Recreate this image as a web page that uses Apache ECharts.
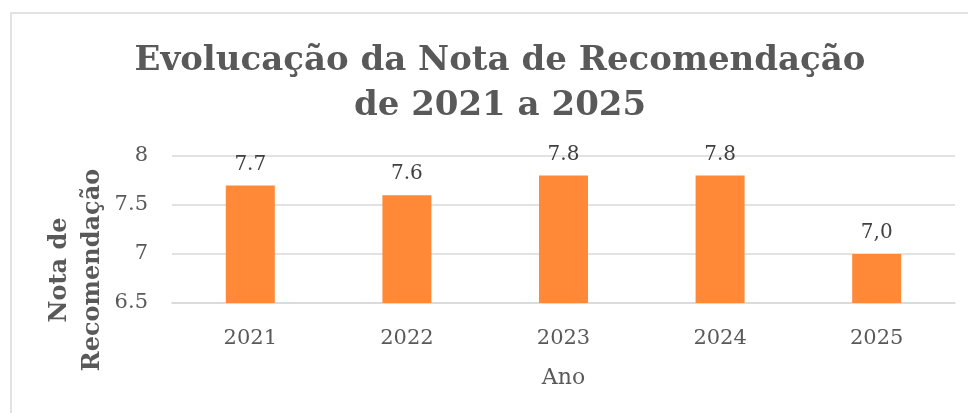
<!DOCTYPE html>
<html>
<head>
<meta charset="utf-8">
<script src="https://cdn.jsdelivr.net/npm/echarts@6/dist/echarts.min.js"></script>
<style>html,body{margin:0;padding:0;background:#fff;}#c{width:968px;height:413px;}</style>
</head>
<body>
<div id="c"></div>
<script>
const categories = ['2021', '2022', '2023', '2024', '2025'];
const values = [7.7, 7.6, 7.8, 7.8, 7.0];
const valueLabels = ['7.7', '7.6', '7.8', '7.8', '7,0'];
const yTicks = { min: 6.5, max: 8, interval: 0.5 };
const titleText = 'Evolucação da Nota de Recomendação\nde 2021 a 2025';
const yName = 'Nota de\nRecomendação';
const xName = 'Ano';

const FONT = '"DejaVu Serif", serif';
const chart = echarts.init(document.getElementById('c'), null, { renderer: 'canvas' });
chart.setOption({
  backgroundColor: '#fff',
  animation: false,
  title: {
    text: titleText,
    left: 495,
    top: 34,
    textAlign: 'center',
    textStyle: { fontFamily: FONT, fontWeight: 'bold', fontSize: 34, color: '#595959', lineHeight: 45 }
  },
  graphic: [
    { type: 'rect', shape: { x: 11, y: 13, width: 1000, height: 500 }, style: { fill: 'none', stroke: '#d9d9d9', lineWidth: 1.5 }, silent: true },
    { type: 'text', x: 76, y: 270, rotation: Math.PI / 2,
      style: { text: yName, fontFamily: FONT, fontWeight: 'bold', fontSize: 24, fill: '#595959', align: 'center', verticalAlign: 'middle', lineHeight: 33 } }
  ],
  grid: { left: 172, right: 13, top: 156, bottom: 110 },
  xAxis: {
    type: 'category',
    data: categories,
    name: xName,
    nameLocation: 'middle',
    nameGap: 64,
    nameTextStyle: { fontFamily: FONT, fontSize: 22, color: '#595959' },
    axisLine: { show: true, lineStyle: { color: '#d9d9d9', width: 1.5 } },
    axisTick: { show: false },
    axisLabel: { fontFamily: FONT, fontSize: 21, color: '#595959', margin: 25 }
  },
  yAxis: {
    type: 'value',
    min: yTicks.min, max: yTicks.max, interval: yTicks.interval,
    axisLine: { show: false },
    axisTick: { show: false },
    axisLabel: { fontFamily: FONT, fontSize: 21, color: '#595959', margin: 24 },
    splitLine: { lineStyle: { color: '#d9d9d9', width: 1.5 } }
  },
  series: [{
    type: 'bar',
    data: values,
    barWidth: 49,
    itemStyle: { color: '#FF8936' },
    label: {
      show: true, position: 'top', distance: 11,
      fontFamily: FONT, fontSize: 20, color: '#404040',
      formatter: p => valueLabels[p.dataIndex]
    }
  }]
});
</script>
</body>
</html>
